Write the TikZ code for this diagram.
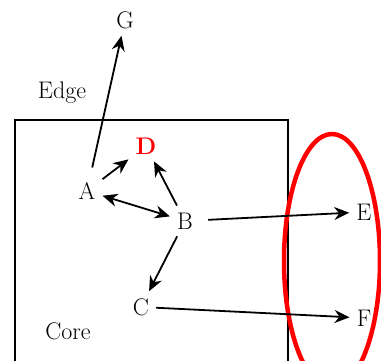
\documentclass[tikz,border=0pt]{standalone}
\usepackage{amsmath,amssymb}
\usepackage{tikz}
\usetikzlibrary{positioning,arrows.meta}

\begin{document}
\begin{tikzpicture}[x=1pt,y=1pt,on grid,>={Stealth[length=15pt,width=13pt]},
    every node/.style={font=\fontsize{24}{28}\selectfont,inner sep=7pt}]
    \clip (0,0) rectangle (381,361);
    \node (A) at (87,170) {A};
    \node[text=red] (D) [above right=45pt and 59pt of A] {\textbf{D}};
    \node (B) [below right=30pt and 98pt of A] {B};
    \node (C) [below left=86pt and 44pt of B] {C};
    \node (G) [above right=171pt and 38pt of A] {G};
    \node (E) [above right=9pt and 179pt of B] {E};
    \node (F) [below=106pt of E] {F};
    \node (edge) [above left=98pt and 25pt of A] {Edge};
    \node (core) [below left=140pt and 19pt of A] {Core};

    % core box and outer group
    \draw[line width=1.8pt] (15,-10) -- (15,241) -- (288,241) -- (288,-10);
    \draw[red,line width=4.5pt] (332,100) ellipse [x radius=48pt, y radius=127pt];

    \path[->,line width=1.8pt]
    (A) edge[shorten <=8pt] (G)
        edge (D)
        edge[<->] (B)
    (B) edge (D)
        edge (C)
        edge[shorten <=8pt] (E)
    (C) edge (F);
\end{tikzpicture}
\end{document}
